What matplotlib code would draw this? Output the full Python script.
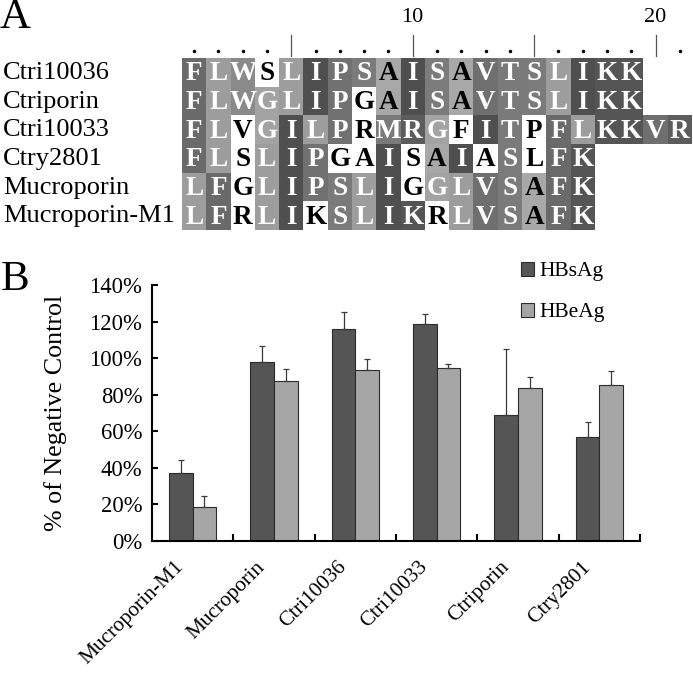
import numpy as np
import matplotlib
matplotlib.use('Agg')
import matplotlib.pyplot as plt
from matplotlib.patches import Rectangle
from matplotlib.transforms import blended_transform_factory

plt.rcParams['font.family'] = ['Liberation Serif', 'DejaVu Serif']

W, H = 693, 673

# panel A: alignment (lower case = residue on white, bold black)
names = ['Ctri10036', 'Ctriporin', 'Ctri10033', 'Ctry2801', 'Mucroporin', 'Mucroporin-M1']
seqs = ['FLWsLIPSAISAVTSLIKK',
        'FLWGLIPgAISAVTSLIKK',
        'FLvGILPrMRGfITpFLKKVR',
        'FLsLIPgaIsAIaSlFK',
        'LFgLIPSLIgGLVSAFK',
        'LFrLIkSLIKrLVSAFK']
shade = {'F': '#6a6a6a', 'L': '#9d9d9d', 'W': '#8a8a8a', 'G': '#a3a3a3',
         'I': '#4f4f4f', 'P': '#717171', 'S': '#7b7b7b', 'A': '#a8a8a8',
         'K': '#555555', 'V': '#6f6f6f', 'R': '#5c5c5c', 'T': '#7a7a7a',
         'M': '#7a7a7a'}
ncol = 21

# panel B: HBV antigen secretion
groups = ['Mucroporin-M1', 'Mucroporin', 'Ctri10036', 'Ctri10033', 'Ctriporin', 'Ctry2801']
hbsag = [37.0, 98.0, 115.7, 118.6, 68.9, 56.7]
hbsag_err = [7.3, 8.7, 9.6, 5.8, 35.9, 8.3]
hbeag = [18.7, 87.4, 93.4, 94.4, 83.8, 85.1]
hbeag_err = [5.9, 6.8, 5.9, 2.3, 6.0, 8.0]
yticks = [0, 20, 40, 60, 80, 100, 120, 140]

fig = plt.figure(figsize=(W / 100, H / 100), dpi=100)

row_h = 172 / 6
axA = fig.add_axes([182 / W, 1 - 230 / H, 510 / W, 230 / H])
axA.set_xlim(0, ncol)
axA.set_ylim(6, -58 / row_h)
axA.axis('off')

for r, s in enumerate(seqs):
    for c, ch in enumerate(s):
        hi = ch.islower()
        aa = ch.upper()
        fc = 'white' if hi else shade[aa]
        tc = 'black' if (hi or aa == 'A') else 'white'
        axA.add_patch(Rectangle((c, r), 1, 1, facecolor=fc, edgecolor='none'))
        axA.text(c + 0.5, r + 0.55, aa, ha='center', va='center', color=tc,
                 fontsize=19.5, fontweight='bold')

trA = blended_transform_factory(fig.transFigure, axA.transData)
for r, n in enumerate(names):
    axA.text(3 / W, r + 0.52, n, transform=trA, ha='left', va='center', fontsize=19)

# ruler above alignment
for p in range(1, ncol + 1):
    if p % 5 == 0:
        axA.plot([p - 0.5, p - 0.5], [-0.8, -0.07], color='#555555', lw=0.9)
        if p % 10 == 0:
            axA.text(p - 0.5, -1.4, str(p), ha='center', va='center', fontsize=16)
    else:
        axA.plot(p - 0.5, -0.24, 'o', color='black', ms=1.5)

fig.text(0 / W, 1 - 18 / H, 'A', ha='left', va='center', fontsize=31)
fig.text(1 / W, 1 - 280 / H, 'B', ha='left', va='center', fontsize=31)

axB = fig.add_axes([152 / W, 1 - 541 / H, 488 / W, 256 / H])
x = np.arange(len(groups)) + 0.5
w = 0.29
axB.bar(x - w / 2, hbsag, w, color='#555555', edgecolor='#2b2b2b', lw=0.8, label='HBsAg')
axB.bar(x + w / 2, hbeag, w, color='#a6a6a6', edgecolor='#2b2b2b', lw=0.8, label='HBeAg')
axB.errorbar(x - w / 2, hbsag, yerr=[np.zeros(len(x)), hbsag_err], fmt='none',
             ecolor='#3a3a3a', elinewidth=0.9, capsize=2.5, capthick=0.9)
axB.errorbar(x + w / 2, hbeag, yerr=[np.zeros(len(x)), hbeag_err], fmt='none',
             ecolor='#3a3a3a', elinewidth=0.9, capsize=2.5, capthick=0.9)

axB.set_xlim(0, len(groups))
axB.set_ylim(0, 140)
axB.set_yticks(yticks)
axB.set_yticklabels(['%d%%' % v for v in yticks], fontsize=16.3)
axB.set_xticks(np.arange(1, len(groups) + 1))
axB.set_xticklabels([])
axB.set_xticks(x - 0.06, minor=True)
axB.set_xticklabels(groups, minor=True, rotation=45, ha='right', va='top', fontsize=15.3)
axB.tick_params(axis='x', which='minor', length=0, pad=12)
axB.tick_params(axis='x', which='major', direction='in', length=5, width=1.5)
axB.tick_params(axis='y', direction='in', length=4, width=1.5, pad=7)
for sp in ['top', 'right']:
    axB.spines[sp].set_visible(False)
for sp in ['left', 'bottom']:
    axB.spines[sp].set_linewidth(1.5)
axB.set_ylabel('% of Negative Control', fontsize=18.7, labelpad=16)

axB.legend(loc='upper left', bbox_to_anchor=(521 / W, 1 - 262 / H),
           bbox_transform=fig.transFigure, frameon=False, borderpad=0,
           borderaxespad=0, handlelength=0.6, handleheight=0.6,
           handletextpad=0.25, labelspacing=1.0, fontsize=15.5)

fig.savefig('out.png', dpi=100)
